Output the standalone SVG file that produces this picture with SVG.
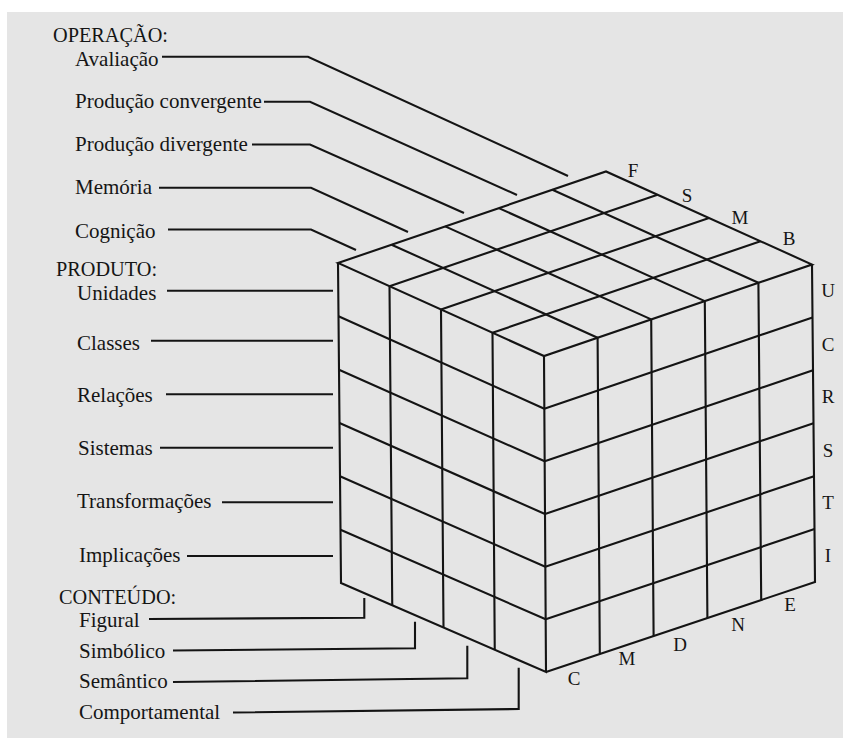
<svg xmlns="http://www.w3.org/2000/svg" width="843" height="738" viewBox="0 0 843 738">
  <style>
    .ln { fill: none; stroke: #141414; stroke-width: 2.1; stroke-linejoin: miter; stroke-linecap: butt; }
    .lead { fill: none; stroke: #141414; stroke-width: 2.1; }
    .t { font-family: "Liberation Serif", "Times New Roman", serif; font-size: 21px; fill: #151515; }
    .h { font-family: "Liberation Serif", "Times New Roman", serif; font-size: 20.3px; fill: #151515; }
    .k { font-family: "Liberation Serif", "Times New Roman", serif; font-size: 19px; fill: #151515; text-anchor: middle; }
  </style>

  <!-- page -->
  <rect x="0" y="0" width="843" height="738" fill="#ffffff"/>
  <rect x="7" y="12" width="836" height="726" fill="#e5e5e5"/>

  <!-- the cube: top, left and right faces with their grids -->
  <g id="cube">
    <!-- top face -->
    <path class="ln" d="M338,263 L606,171.5 L812,264.5 L544,356 Z"/>
    <path class="ln" d="M389.5,286.25 L657.5,194.75 M441,309.5 L709,218 M492.5,332.75 L760.5,241.25"/>
    <path class="ln" d="M391.6,244.7 L597.6,337.7 M445.2,226.4 L651.2,319.4 M498.8,208.1 L704.8,301.1 M552.4,189.8 L758.4,282.8"/>
    <!-- left face -->
    <path class="ln" d="M338,263 L341,583 L546,672 L544,356"/>
    <path class="ln" d="M389.5,286.25 L392.25,605.25 M441,309.5 L443.5,627.5 M492.5,332.75 L494.75,649.75"/>
    <path class="ln" d="M338.5,316.3 L544.3,408.7 M339,369.7 L544.7,461.3 M339.5,423 L545,514 M340,476.3 L545.3,566.7 M340.5,529.7 L545.7,619.3"/>
    <!-- right face -->
    <path class="ln" d="M546,672 L815,582 L812,264.5"/>
    <path class="ln" d="M597.6,337.7 L599.8,654 M651.2,319.4 L653.6,636 M704.8,301.1 L707.4,618 M758.4,282.8 L761.2,600"/>
    <path class="ln" d="M544.3,408.7 L812.5,317.4 M544.7,461.3 L813,370.3 M545,514 L813.5,423.25 M545.3,566.7 L814,476.2 M545.7,619.3 L814.5,529.1"/>
  </g>

  <!-- letters along the cube edges -->
  <g id="edge-content">
    <text class="k" x="633" y="177">F</text>
    <text class="k" x="687" y="202">S</text>
    <text class="k" x="740" y="224">M</text>
    <text class="k" x="789" y="245">B</text>
  </g>
  <g id="edge-product">
    <text class="k" x="828" y="297">U</text>
    <text class="k" x="828" y="351">C</text>
    <text class="k" x="828" y="403">R</text>
    <text class="k" x="828" y="457">S</text>
    <text class="k" x="828" y="509">T</text>
    <text class="k" x="828" y="562">I</text>
  </g>
  <g id="edge-operation">
    <text class="k" x="574" y="685">C</text>
    <text class="k" x="627" y="665">M</text>
    <text class="k" x="680" y="651">D</text>
    <text class="k" x="738" y="631">N</text>
    <text class="k" x="790" y="611">E</text>
  </g>

  <!-- operation labels -->
  <g id="operacao">
    <text class="h" x="53" y="41.5">OPERAÇÃO:</text>
    <g id="op-avaliacao"><text class="t" x="75" y="65.5">Avaliação</text></g>
    <g id="op-convergente"><text class="t" x="75" y="108">Produção convergente</text></g>
    <g id="op-divergente"><text class="t" x="75" y="151">Produção divergente</text></g>
    <g id="op-memoria"><text class="t" x="75" y="194">Memória</text></g>
    <g id="op-cognicao"><text class="t" x="75" y="237.5">Cognição</text></g>
  </g>

  <!-- product labels -->
  <g id="produto">
    <text class="h" x="56" y="276">PRODUTO:</text>
    <g id="pr-unidades"><text class="t" x="77" y="300">Unidades</text></g>
    <g id="pr-classes"><text class="t" x="77" y="350">Classes</text></g>
    <g id="pr-relacoes"><text class="t" x="77" y="401.5">Relações</text></g>
    <g id="pr-sistemas"><text class="t" x="78" y="455">Sistemas</text></g>
    <g id="pr-transformacoes"><text class="t" x="77" y="507.5">Transformações</text></g>
    <g id="pr-implicacoes"><text class="t" x="79" y="561.5">Implicações</text></g>
  </g>

  <!-- content labels -->
  <g id="conteudo">
    <text class="h" x="59" y="604">CONTEÚDO:</text>
    <g id="co-figural"><text class="t" x="79" y="626.5">Figural</text></g>
    <g id="co-simbolico"><text class="t" x="79" y="658">Simbólico</text></g>
    <g id="co-semantico"><text class="t" x="79" y="688">Semântico</text></g>
    <g id="co-comportamental"><text class="t" x="79" y="719">Comportamental</text></g>
  </g>

  <!-- leader lines from labels to the cube -->
  <g id="connectors">
    <polyline class="lead" points="162,56.7 308,56.7 568,176"/>
    <polyline class="lead" points="264,101.7 310,101.7 517,195"/>
    <polyline class="lead" points="252,144.5 310,144.5 464,213"/>
    <polyline class="lead" points="159,187.7 311,187.7 408,232"/>
    <polyline class="lead" points="168,229.5 311,229.5 356,250"/>

    <line class="lead" x1="167" y1="290.7" x2="333" y2="290.7"/>
    <line class="lead" x1="151" y1="340.7" x2="333" y2="340.7"/>
    <line class="lead" x1="166" y1="394.3" x2="333" y2="394.3"/>
    <line class="lead" x1="160" y1="447.7" x2="333" y2="447.7"/>
    <line class="lead" x1="222" y1="502.3" x2="333" y2="502.3"/>
    <line class="lead" x1="187" y1="556" x2="333" y2="556"/>

    <polyline class="lead" points="149,619 364.3,617.7 364.3,598"/>
    <polyline class="lead" points="173,650.5 415,648.3 415,621.7"/>
    <polyline class="lead" points="173,682 467.3,678.3 467.3,645.7"/>
    <polyline class="lead" points="233,712.5 518.7,709 518.7,667.7"/>
  </g>
</svg>
